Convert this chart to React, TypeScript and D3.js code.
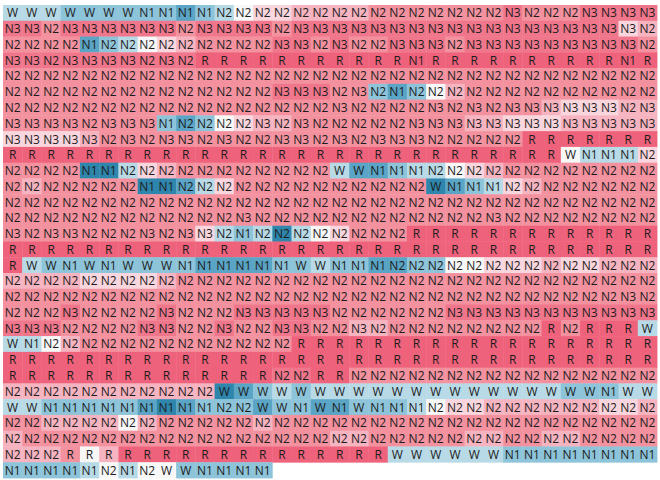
import React from 'react';
import * as d3 from 'd3';

// Sleep stage label of each epoch, one string per row (34 epochs per row)
const stageRows: string[] = [
  'W W W W W W W N1 N1 N1 N1 N2 N2 N2 N2 N2 N2 N2 N2 N2 N2 N2 N2 N2 N2 N2 N3 N2 N2 N2 N3 N3 N3 N3',
  'N3 N3 N2 N3 N3 N3 N3 N3 N3 N2 N3 N3 N3 N3 N2 N3 N3 N3 N3 N3 N3 N3 N3 N3 N3 N3 N3 N3 N3 N3 N3 N3 N3 N2',
  'N2 N2 N2 N2 N1 N2 N2 N2 N2 N2 N2 N2 N2 N2 N3 N3 N2 N3 N2 N2 N3 N3 N3 N2 N3 N3 N3 N3 N3 N3 N3 N3 N3 N2',
  'N3 N3 N2 N3 N3 N3 N3 N2 N3 N2 R R R R R R R R R R R N1 R R R R R R R R R R N1 R',
  'N2 N2 N2 N2 N2 N2 N2 N2 N2 N2 N2 N2 N2 N2 N2 N2 N2 N2 N2 N2 N2 N2 N2 N2 N2 N2 N2 N2 N2 N2 N2 N2 N2 N2',
  'N2 N2 N2 N2 N2 N2 N2 N2 N2 N2 N2 N2 N2 N2 N3 N3 N3 N2 N3 N2 N1 N2 N2 N2 N2 N2 N2 N2 N2 N2 N2 N2 N2 N2',
  'N2 N2 N2 N2 N2 N2 N2 N2 N2 N2 N2 N2 N2 N2 N2 N2 N2 N3 N2 N2 N2 N2 N3 N2 N3 N2 N3 N3 N3 N3 N3 N3 N2 N3',
  'N3 N3 N3 N3 N2 N3 N3 N3 N1 N2 N2 N2 N2 N3 N2 N3 N2 N2 N2 N2 N2 N3 N3 N3 N3 N3 N3 N3 N3 N3 N3 N3 N3 N3',
  'N3 N3 N3 N3 N3 N2 N3 N2 N3 N3 N2 N3 N2 N2 N3 N3 N2 N3 N2 N3 N3 N3 N2 N2 N2 N2 N2 R R R R R R R',
  'R R R R R R R R R R R R R R R R R R R R R R R R R R R R R W N1 N1 N1 N2',
  'N2 N2 N2 N2 N1 N1 N2 N2 N2 N2 N2 N2 N2 N2 N2 N2 N2 W W N1 N1 N1 N2 N2 N2 N2 N2 N2 N2 N2 N2 N2 N2 N2',
  'N2 N2 N2 N2 N2 N2 N2 N1 N1 N2 N2 N2 N2 N2 N2 N2 N2 N2 N2 N2 N2 N2 W N1 N1 N1 N2 N2 N2 N2 N2 N2 N2 N2',
  'N2 N2 N2 N2 N2 N2 N2 N2 N2 N2 N2 N2 N2 N2 N2 N2 N2 N2 N2 N2 N2 N2 N2 N2 N2 N2 N2 N2 N2 N2 N2 N2 N2 N2',
  'N2 N2 N2 N2 N2 N2 N2 N2 N2 N2 N2 N2 N3 N2 N2 N2 N2 N2 N2 N2 N2 N2 N2 N2 N2 N3 N2 N2 N2 N2 N2 N2 N2 N2',
  'N3 N2 N3 N3 N2 N2 N2 N3 N2 N3 N3 N2 N1 N2 N2 N2 N2 N2 N2 N2 N2 R R R R R R R R R R R R R',
  'R R R R R R R R R R R R R R R R R R R R R R R R R R R R R R R R R R',
  'R W W N1 W N1 W W W N1 N1 N1 N1 N1 N1 W W N1 N1 N1 N2 N2 N2 N2 N2 N2 N2 N2 N2 N2 N2 N2 N2 N2',
  'N2 N2 N2 N2 N2 N2 N2 N2 N2 N2 N2 N2 N2 N2 N2 N2 N2 N2 N2 N2 N2 N2 N2 N2 N2 N2 N2 N2 N2 N2 N2 N2 N2 N2',
  'N2 N2 N2 N2 N2 N2 N2 N2 N2 N2 N2 N2 N2 N2 N2 N2 N2 N2 N2 N2 N2 N2 N2 N2 N2 N2 N2 N2 N2 N2 N2 N2 N3 N2',
  'N2 N2 N2 N3 N2 N2 N2 N2 N3 N2 N2 N2 N3 N3 N3 N3 N3 N2 N2 N2 N2 N2 N2 N3 N3 N3 N3 N3 N3 N3 N3 N3 N3 N3',
  'N3 N3 N3 N2 N2 N2 N2 N3 N3 N2 N2 N3 N2 N2 N3 N3 N2 N2 N3 N2 N2 N2 N2 N2 N2 N2 N2 N2 R N2 R R R W',
  'W N1 N2 N2 N2 N2 N2 N2 N2 N2 N2 N2 N2 N2 N2 R R R R R R R R R R R R R R R R R R R',
  'R R R R R R R R R R R R R R R R R R R R R R R R R R R R R R R R R R',
  'R R R R R R R R R R R R R R N2 N2 R R N2 N2 N2 N2 N2 N2 N2 N2 N2 N2 N2 N2 N2 N2 N2 N2',
  'N2 N2 N2 N2 N2 N2 N2 N2 N2 N2 N2 W W W W W W W W W W W W W W W W W W W W N1 W W',
  'W W N1 N1 N1 N1 N1 N1 N1 N1 N1 N2 N2 W W N1 W N1 W N1 N1 N1 N2 N2 N2 N2 N2 N2 N2 N2 N2 N2 N2 N2',
  'N2 N2 N2 N2 N2 N2 N2 N2 N2 N2 N2 N2 N2 N2 N2 N2 N2 N2 N2 N2 N2 N2 N2 N2 N2 N2 N2 N2 N2 N2 N2 N2 N2 N2',
  'N2 N2 N2 N2 N2 N2 N2 N2 N2 N2 N2 N2 N2 N2 N2 N2 N2 N2 N2 N2 N2 N2 N2 N2 N2 N2 N2 N2 N2 N2 N2 N2 N2 N2',
  'N2 N2 N2 R R R R R R R R R R R R R R R R R W W W W W W N1 N1 N1 N1 N1 N1 N1 N1',
  'N1 N1 N1 N1 N1 N2 N1 N2 W W N1 N1 N1 N1',
];

// Colour level of each epoch (0 = deep blue ... 4 = white ... 9 = red)
const levelRows: string[] = [
  '3332222221234556666777777787778888',
  '8878888887888878888888888888888856',
  '7777123456777788787788878888888887',
  '8888888888999999999999999999999999',
  '7777777777777777777777777777777777',
  '7777777777777788877212467777777777',
  '7777777777777777777777777777655566',
  '7777777721245667777777776655566666',
  '5555677777777777777777777779999999',
  '9999999999999999999999999999943335',
  '7777003567777777731123345677777777',
  '7677777001357777777777012356777777',
  '7777777777777777777777777777777777',
  '7777777777777777777777777777777777',
  '7777777777532303457779999999999999',
  '9999999999999999999999999999999999',
  '9322222222111122322112244555655666',
  '6666555567777777777777777777777777',
  '7777777777777777777777777777777777',
  '7778777787778888877777788888888888',
  '8887777887787788776677777777979993',
  '3346777777777779999999999999999999',
  '9999999999999999999999999999999999',
  '9999999999999988997777777777777777',
  '6666666666601232333333333333322233',
  '3322222101222122112223455666666556',
  '7766664677777677777777777777777777',
  '6777777777777777766777776677667777',
  '6667469999999999999933333322222222',
  '22223434422222',
];

const levelDomain = [0, 1, 2, 3, 4, 5, 6, 7, 8, 9];
const levelColors = [
  '#2f86ad', '#5aa4c5', '#8dc4d9', '#b8dae7', '#f7f7f7',
  '#f9d6dd', '#f6b3c0', '#f3919f', '#f0768b', '#ef627b',
];

const nCols = 34;

export default function App() {
  const width = 660;
  const height = 480;

  const x = d3.scaleBand<number>().domain(d3.range(nCols)).range([3, 657]).padding(0);
  const y = d3.scaleBand<number>().domain(d3.range(stageRows.length)).range([5, 478]).padding(0);
  const color = d3
    .scaleLinear<string>()
    .domain(levelDomain)
    .range(levelColors)
    .interpolate(d3.interpolateRgb);

  const cells: { r: number; c: number; s: string; v: number }[] = [];
  stageRows.forEach((row, r) => {
    const st = row.split(' ');
    st.forEach((s, c) => {
      cells.push({ r, c, s, v: +levelRows[r][c] });
    });
  });

  return (
    <svg
      width={width}
      height={height}
      style={{ position: 'absolute', left: 0, top: 0, background: '#fff' }}
    >
      <g>
        {cells.map((d) => (
          <rect
            key={`r${d.r}-${d.c}`}
            x={x(d.c)}
            y={y(d.r)}
            width={x.bandwidth() + 0.4}
            height={y.bandwidth() + 0.4}
            fill={color(d.v)}
          />
        ))}
      </g>
      <g fontFamily="'Open Sans', 'Liberation Sans', sans-serif" fontSize={12} fill="#1c1c1c">
        {cells.map((d) => (
          <text
            key={`t${d.r}-${d.c}`}
            x={(x(d.c) as number) + x.bandwidth() / 2}
            y={(y(d.r) as number) + y.bandwidth() / 2}
            textAnchor="middle"
            dominantBaseline="central"
          >
            {d.s}
          </text>
        ))}
      </g>
    </svg>
  );
}
